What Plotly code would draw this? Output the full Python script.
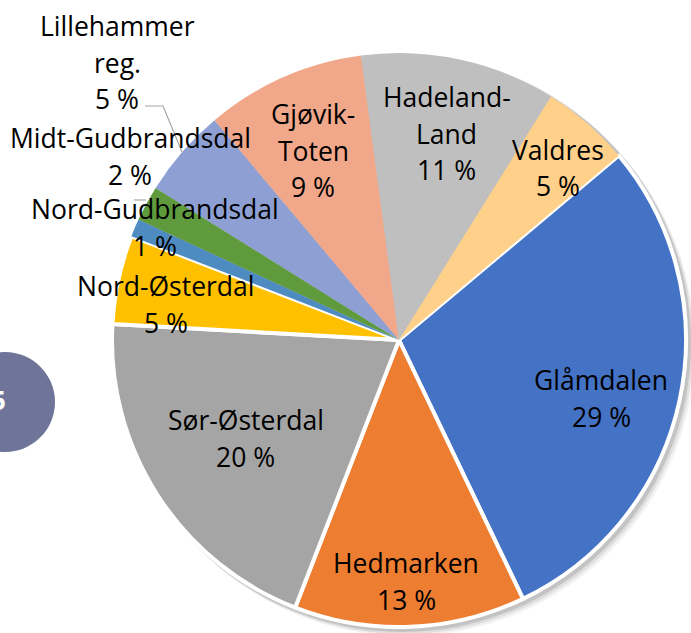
import plotly.graph_objects as go

W, H = 691, 633

regions = ["Glåmdalen", "Hedmarken", "Sør-Østerdal", "Nord-Østerdal", "Nord-Gudbrandsdal",
           "Midt-Gudbrandsdal", "Lillehammer reg.", "Gjøvik-Toten", "Hadeland-Land", "Valdres"]
shares = [29, 13, 20, 5, 1, 2, 5, 9, 11, 5]
label_lines = [["Glåmdalen"], ["Hedmarken"], ["Sør-Østerdal"], ["Nord-Østerdal"], ["Nord-Gudbrandsdal"],
               ["Midt-Gudbrandsdal"], ["Lillehammer", "reg."], ["Gjøvik-", "Toten"], ["Hadeland-", "Land"], ["Valdres"]]
colors = ["#4472C4", "#ED7D31", "#A5A5A5", "#FFC000", "#4E8BC1",
          "#5F9B3D", "#8EA0D3", "#F1A88A", "#BFBFBF", "#FFD08A"]
border_w = [4, 4, 4, 4, 0, 0, 0, 0, 0, 0]

# label placement (pixel centre of first line)
label_pos = [(601, 380), (406, 563), (246, 420), (166, 286), (155, 209),
             (130, 138), (117, 26), (313, 114), (447, 97), (558, 150)]

cx, cy, r = 399, 340, 287


def px(x):
    return x / W


def py(y):
    return 1 - y / H


fig = go.Figure()
fig.add_trace(go.Pie(
    labels=regions, values=shares, sort=False, direction="clockwise", rotation=50,
    marker=dict(colors=colors, line=dict(color="white", width=border_w)),
    textinfo="none", hoverinfo="label+percent", showlegend=False,
    domain=dict(x=[px(cx - r), px(cx + r)], y=[py(cy + r), py(cy - r)]),
))

shapes = []
# soft drop shadow
for off, op in [(7, 0.05), (5, 0.08), (3, 0.12)]:
    shapes.append(dict(type="circle", xref="paper", yref="paper", layer="below",
                       x0=px(cx - r + off - 2), x1=px(cx + r + off + 2),
                       y0=py(cy + r + off + 2), y1=py(cy - r + off - 2),
                       fillcolor=f"rgba(0,0,0,{op})", line=dict(width=0)))
# partial badge at left edge
shapes.append(dict(type="circle", xref="paper", yref="paper",
                   x0=px(5 - 50), x1=px(5 + 50), y0=py(402 + 50), y1=py(402 - 50),
                   fillcolor="#6E7598", line=dict(width=0)))
# leader lines
shapes.append(dict(type="path", xref="paper", yref="paper",
                   path=f"M {px(145)} {py(106)} L {px(163)} {py(106)} L {px(182)} {py(152)}",
                   line=dict(color="#A6A6A6", width=1.2)))
shapes.append(dict(type="path", xref="paper", yref="paper",
                   path=f"M {px(134)} {py(200)} L {px(146)} {py(200)}",
                   line=dict(color="#A6A6A6", width=1.2)))

annotations = []
tot = sum(shares)
font = dict(family="Open Sans", size=26.5, color="#000000")
for lines, v, (x, y) in zip(label_lines, shares, label_pos):
    all_lines = lines + [f"{round(100 * v / tot)} %"]
    for i, t in enumerate(all_lines):
        annotations.append(dict(text=t, x=px(x), y=py(y + 36.5 * i), xref="paper", yref="paper",
                                showarrow=False, xanchor="center", yanchor="middle", font=font))
annotations.append(dict(text="<b>5</b>", x=px(-2), y=py(400), xref="paper", yref="paper",
                        showarrow=False, xanchor="center", yanchor="middle",
                        font=dict(family="Open Sans", size=26, color="white")))

fig.update_layout(width=W, height=H, margin=dict(l=0, r=0, t=0, b=0),
                  paper_bgcolor="white", plot_bgcolor="white",
                  shapes=shapes, annotations=annotations)
fig.write_html("out.html", config={"displayModeBar": False},
               post_script="document.body.style.margin='0px';document.body.style.overflow='hidden';")
